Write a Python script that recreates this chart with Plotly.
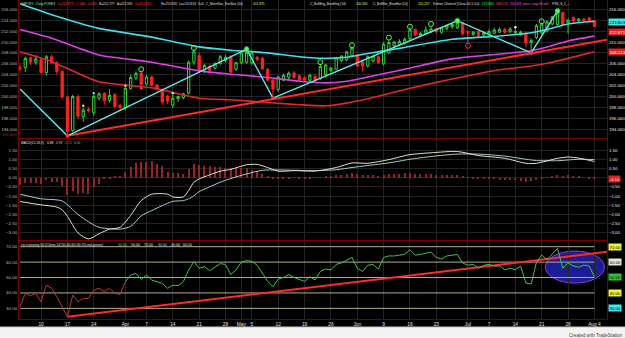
import plotly.graph_objects as go
import pandas as pd

# ---------------- data ----------------
dates = [d.strftime("%Y-%m-%d") for d in pd.bdate_range("2014-03-04", "2014-08-04")]

open_ = [205.3,205.3,207.1,206.3,206.8,204.4,207.3,206.2,204.6,199.9,
         193.8,200.0,196.3,197.7,197.0,199.7,200.6,199.3,200.4,198.4,
         197.9,201.5,203.4,204.3,202.3,203.6,202.1,201.3,200.1,198.4,
         199.6,199.8,200.6,206.3,207.5,204.9,205.6,205.2,206.1,206.6,
         207.3,205.0,206.2,206.3,206.2,207.2,207.0,205.0,203.0,201.3,
         203.0,203.5,204.3,203.8,203.5,203.0,203.7,203.3,204.0,204.8,
         205.0,206.6,206.7,207.5,207.6,206.5,205.6,206.5,207.3,206.0,
         208.0,209.3,209.5,209.8,210.6,212.3,211.2,211.6,211.9,212.4,
         211.8,212.5,212.8,212.6,213.5,211.9,211.4,211.9,211.3,211.4,
         211.6,211.8,212.3,211.9,211.7,211.5,211.5,209.9,210.8,211.7,
         212.0,213.3,213.2,215.4,213.5,214.5,213.9,214.2,214.4,213.913]
high = [205.9,207.3,207.3,207.6,207.0,207.6,207.7,206.5,204.9,200.2,
        200.3,200.4,197.9,198.0,200.3,200.8,200.8,201.4,200.6,198.7,
        201.7,204.0,204.6,204.7,204.0,203.9,202.3,201.5,200.3,200.3,
        200.2,200.7,206.6,208.6,208.0,206.0,205.9,206.3,207.6,207.6,
        207.6,206.4,208.3,208.7,208.4,207.4,207.3,205.2,203.2,203.8,
        204.2,204.6,204.7,204.1,203.8,204.2,204.0,206.0,206.0,205.4,
        207.3,207.6,208.4,209.1,207.8,206.8,207.5,207.7,207.5,210.0,
        210.3,210.2,210.5,210.8,212.4,212.5,211.8,212.9,212.8,212.6,
        212.8,213.2,213.4,213.9,213.6,212.1,212.0,212.1,212.0,212.3,
        212.6,212.7,212.6,212.7,212.4,212.1,211.8,210.6,213.3,213.5,
        214.0,214.8,215.7,215.6,214.3,214.7,214.4,214.4,214.6,213.933]
low = [204.6,204.5,205.8,205.8,204.2,203.8,205.9,204.0,199.6,192.8,
       193.5,195.9,195.4,197.1,196.5,199.3,198.5,198.9,197.8,197.6,
       197.5,201.2,203.0,201.9,202.0,201.9,201.1,198.5,198.6,197.9,
       199.0,199.5,200.4,205.8,204.3,204.3,204.5,204.9,205.8,206.2,
       204.2,204.7,205.9,206.0,205.9,206.5,204.9,202.8,199.7,200.8,
       202.8,203.2,203.2,202.8,202.7,202.6,202.6,203.0,203.5,204.4,
       204.8,206.3,206.5,207.2,205.4,204.6,205.3,206.2,206.0,205.7,
       207.8,209.0,209.2,209.4,210.3,211.1,210.9,211.3,211.6,211.6,
       211.5,212.2,212.4,212.3,211.2,209.8,211.1,210.9,211.0,211.1,
       211.4,211.6,211.5,211.6,211.4,211.2,209.0,208.0,210.5,211.4,
       211.8,213.0,213.0,212.9,211.5,213.5,213.6,213.7,213.7,212.813]
close = [205.1,207.0,206.3,206.9,204.4,207.3,206.2,204.6,199.9,193.6,
         200.0,196.4,197.5,197.4,200.0,200.5,199.3,200.2,198.2,198.0,
         201.5,203.5,204.2,202.2,203.6,202.1,201.3,199.0,199.2,199.7,
         200.0,200.5,206.3,208.2,204.6,205.7,204.8,206.0,207.3,207.2,
         204.5,206.2,208.0,208.1,208.0,206.8,205.1,203.0,201.4,203.6,
         203.9,204.3,203.5,203.1,203.0,203.9,203.0,205.5,205.8,205.2,
         207.1,207.4,208.2,208.9,205.6,205.6,207.3,207.4,206.2,209.6,
         209.9,210.0,210.1,210.5,212.2,211.3,211.6,212.2,212.4,211.9,
         212.6,213.0,213.2,213.6,211.5,211.7,211.8,211.2,211.7,211.9,
         212.2,212.3,211.8,212.4,211.9,211.8,209.8,210.3,213.0,213.3,
         213.7,214.6,215.3,213.1,214.0,213.9,214.2,213.9,213.937,212.871]

# Keltner channel (Close,50,1.5) read at key dates
kc_dates = ["2014-03-04","2014-03-12","2014-03-25","2014-04-08","2014-04-21","2014-04-29",
            "2014-05-08","2014-05-16","2014-05-23","2014-05-29","2014-06-04","2014-06-13",
            "2014-06-26","2014-07-09","2014-07-17","2014-07-22","2014-07-28","2014-08-04"]
kc_upper = [217.0,215.0,212.5,210.9,209.1,208.5,208.0,207.3,207.0,207.2,207.9,209.0,
            210.5,211.1,211.7,212.3,213.3,213.803]
kc_mid = [212.3,210.7,207.6,206.3,204.7,204.1,203.5,202.8,202.5,202.8,203.6,205.0,
          206.9,207.8,208.4,209.1,210.2,211.073]
kc_lower = [208.2,206.4,202.7,201.6,199.7,199.4,198.9,198.5,198.3,198.8,199.6,201.3,
            203.2,204.9,205.6,206.1,207.0,208.213]

# zigzag swing pivots
zz_dates = ["2014-03-04","2014-03-17","2014-05-02","2014-05-09","2014-06-27","2014-07-17","2014-07-24"]
zz_vals = [201.4,192.8,208.7,199.7,213.9,208.0,215.7]
zz_high_dates = ["2014-05-02","2014-06-27","2014-07-24"]
zz_high_vals = [208.7,213.9,215.7]
zz_low_dates = ["2014-03-17","2014-05-09","2014-07-17"]
zz_low_vals = [192.8,199.7,208.0]

# candle-pattern signals
bull_dates = ["2014-04-04","2014-04-18","2014-05-22","2014-05-30","2014-06-10","2014-06-16","2014-06-20","2014-07-21"]
bull_vals = [205.0,208.9,206.3,209.4,210.8,212.8,213.3,213.8]
bear_dates = ["2014-07-01"]
bear_vals = [209.3]
dot_dates = ["2014-03-20","2014-04-01","2014-04-14","2014-03-24","2014-04-04","2014-07-14"]
dot_vals = [198.3,202.0,200.6,200.6,201.5,212.7]
dot_colors = ["#f0e040","#f0e040","#f0e040","#40e0ff","#e040e0","#f0f0f0"]

# trendlines (anchor date/value pairs)
price_trend_dates = ["2014-03-17","2014-08-04"]
price_trend_vals = [192.8,210.0]
rsi_trend_dates = ["2014-03-17","2014-08-04"]
rsi_trend_vals = [24.5,65.7]

# MACD (12,26,9)
macd_dates = ["2014-03-04","2014-03-10","2014-03-13","2014-03-14","2014-03-17","2014-03-19",
              "2014-03-21","2014-03-25","2014-03-27","2014-03-31","2014-04-02","2014-04-04",
              "2014-04-08","2014-04-11","2014-04-14","2014-04-16","2014-04-17","2014-04-18",
              "2014-04-21","2014-04-23","2014-04-25","2014-04-29","2014-05-02","2014-05-06",
              "2014-05-08","2014-05-12","2014-05-15","2014-05-21","2014-05-27","2014-05-30",
              "2014-06-04","2014-06-10","2014-06-16","2014-06-20","2014-06-27","2014-07-03",
              "2014-07-10","2014-07-16","2014-07-18","2014-07-24","2014-07-28","2014-07-30","2014-08-04"]
macd_vals = [-1.30,-1.48,-1.60,-1.75,-2.10,-3.00,-3.33,-3.05,-2.80,-2.70,-2.05,-1.25,
             -0.90,-0.90,-1.05,-1.05,-0.70,-0.25,-0.07,0.15,0.35,0.45,0.70,0.72,
             0.55,0.35,0.38,0.36,0.55,0.80,0.78,0.98,1.25,1.35,1.42,1.20,
             1.05,0.78,0.78,1.05,1.12,1.06,0.88]
sig_dates = ["2014-03-04","2014-03-10","2014-03-14","2014-03-19","2014-03-21","2014-03-25",
             "2014-03-27","2014-03-31","2014-04-02","2014-04-04","2014-04-08","2014-04-10",
             "2014-04-14","2014-04-16","2014-04-17","2014-04-18","2014-04-21","2014-04-23",
             "2014-04-25","2014-04-29","2014-05-02","2014-05-07","2014-05-12","2014-05-15",
             "2014-05-21","2014-05-27","2014-05-30","2014-06-04","2014-06-10","2014-06-16",
             "2014-06-20","2014-06-27","2014-07-03","2014-07-10","2014-07-16","2014-07-18",
             "2014-07-24","2014-07-28","2014-07-30","2014-08-04"]
sig_vals = [-0.90,-1.15,-1.27,-2.00,-2.40,-2.70,-2.78,-2.80,-2.65,-2.08,-1.79,-1.52,
            -1.29,-1.25,-1.15,-0.99,-0.76,-0.50,-0.25,-0.05,0.20,0.40,0.42,0.40,
            0.38,0.43,0.55,0.66,0.80,1.00,1.15,1.28,1.28,1.17,1.00,0.93,
            0.92,0.96,1.00,0.98]
macd_hist = [-0.40,-0.30,-0.30,-0.30,-0.33,-0.12,-0.21,-0.26,-0.48,-0.94,
             -0.70,-0.90,-0.85,-0.90,-0.50,-0.35,-0.05,-0.05,0.05,0.10,
             0.33,0.60,0.82,0.87,0.87,0.90,0.74,0.63,0.33,0.24,
             0.24,0.20,0.45,0.74,0.69,0.65,0.62,0.60,0.58,0.55,
             0.50,0.50,0.52,0.50,0.42,0.35,0.20,0.10,-0.05,-0.08,
             -0.06,-0.03,-0.02,-0.03,-0.04,-0.03,-0.02,0.03,0.07,0.10,
             0.12,0.17,0.22,0.25,0.18,0.12,0.12,0.13,0.10,0.16,
             0.18,0.20,0.21,0.23,0.25,0.22,0.21,0.20,0.20,0.16,
             0.15,0.15,0.14,0.14,0.05,-0.02,-0.05,-0.08,-0.08,-0.10,
             -0.10,-0.11,-0.12,-0.12,-0.14,-0.16,-0.22,-0.20,-0.15,-0.08,
             -0.02,0.06,0.13,0.10,0.14,0.10,0.06,0.00,-0.05,-0.10]

# RSI (14)
rsi = [31.0,39.7,38.2,39.7,34.3,45.1,43.0,37.5,31.0,24.5,
       38.6,34.3,36.5,36.5,41.9,43.0,40.8,43.0,39.7,39.1,
       47.3,51.6,52.7,48.8,51.6,48.4,47.3,46.2,43.0,45.1,
       44.7,47.3,54.9,60.3,56.0,57.0,54.5,56.5,59.0,58.5,
       52.0,55.0,60.0,61.0,60.5,58.0,53.0,47.5,44.0,49.0,
       50.0,52.0,50.0,48.5,47.5,50.5,48.5,54.0,55.5,55.0,
       58.5,59.5,61.5,63.0,56.0,54.0,58.0,58.5,55.5,63.0,
       64.0,64.0,64.5,65.0,68.0,64.5,65.0,66.0,66.5,63.0,
       62.0,64.0,64.6,65.0,59.4,58.0,58.5,56.0,58.0,58.5,
       57.5,57.5,55.0,56.0,55.0,57.5,46.4,45.8,60.0,64.6,
       61.4,65.0,69.0,56.0,59.4,57.5,56.8,58.0,57.5,50.5]
rsi_cross_date = "2014-04-01"
rsi_levels = [70, 60, 50, 40, 30]
highlight_dates = ["2014-07-22", "2014-08-04"]
highlight_rsi = [46.4, 67.2]

tick_dates = ["2014-03-10","2014-03-17","2014-03-24","2014-04-01","2014-04-07","2014-04-14",
              "2014-04-21","2014-04-28","2014-05-01","2014-05-05","2014-05-12","2014-05-19",
              "2014-05-26","2014-06-02","2014-06-09","2014-06-16","2014-06-23","2014-07-01",
              "2014-07-07","2014-07-14","2014-07-21","2014-07-28","2014-08-04"]
tick_labels = ["10","17","24","Apr","7","14","21","28","May","5","12","19",
               "26","Jun","9","16","23","Jul","7","14","21","28","Aug 4"]
price_ticks = [194,196,198,200,202,204,206,208,210,212,214,216]
macd_ticks = [1.5,1.0,0.5,0.0,-0.5,-1.0,-1.5,-2.0,-2.5,-3.0]

assert len(dates) == 110
for arr in (open_, high, low, close, macd_hist, rsi):
    assert len(arr) == len(dates), len(arr)

# ---------------- figure ----------------
FONT = "Liberation Sans, Arial, sans-serif"
pos = {d: i for i, d in enumerate(dates)}
X = list(range(len(dates)))
def ix(ds):
    return [pos[d] for d in ds]

X_RANGE = [-0.19, 111.39]
ML, MR, MT, MB = 19, 18, 0, 19
PW, PH = 625 - ML - MR, 338 - MT - MB
def xp(px):
    return (px - ML) / PW
def yp(py):
    return (PH - (py - MT)) / PH

RED_BORDER = "#7a0000"
GRID = "#242424"

fig = go.Figure()

# --- price panel ---
fig.add_trace(go.Scatter(x=ix(kc_dates), y=kc_lower, mode="lines", line=dict(color="#e02828", width=1.6, shape="spline", smoothing=0.6), hoverinfo="skip"))
fig.add_trace(go.Scatter(x=ix(kc_dates), y=kc_mid, mode="lines", line=dict(color="#e040e8", width=1.6, shape="spline", smoothing=0.6), hoverinfo="skip"))
fig.add_trace(go.Scatter(x=ix(kc_dates), y=kc_upper, mode="lines", line=dict(color="#40e0e8", width=1.6, shape="spline", smoothing=0.6), hoverinfo="skip"))

def extended(dts, vals):
    i0, i1 = pos[dts[0]], pos[dts[1]]
    slope = (vals[1] - vals[0]) / (i1 - i0)
    return [i0, X_RANGE[1]], [vals[0], vals[1] + slope * (X_RANGE[1] - i1)]

tx, ty = extended(price_trend_dates, price_trend_vals)
fig.add_trace(go.Scatter(x=tx, y=ty, mode="lines", line=dict(color="#ff2a2a", width=2), hoverinfo="skip"))

fig.add_trace(go.Candlestick(x=X, open=open_, high=high, low=low, close=close,
                             increasing=dict(line=dict(color="#38d038", width=1), fillcolor="#000000"),
                             decreasing=dict(line=dict(color="#ff2020", width=1), fillcolor="#ff2020"),
                             whiskerwidth=0, hoverinfo="skip"))

fig.add_trace(go.Scatter(x=ix(zz_dates), y=zz_vals, mode="lines", line=dict(color="#60e8e8", width=1.4), hoverinfo="skip"))
fig.add_trace(go.Scatter(x=ix(zz_high_dates), y=zz_high_vals, mode="markers",
                         marker=dict(color="#50ff50", size=5, line=dict(color="#20a020", width=0.6)), hoverinfo="skip"))
fig.add_trace(go.Scatter(x=ix(zz_low_dates), y=zz_low_vals, mode="markers",
                         marker=dict(color="#ff3030", size=4), hoverinfo="skip"))
fig.add_trace(go.Scatter(x=ix(bull_dates), y=bull_vals, mode="markers",
                         marker=dict(symbol="circle-open", color="#50ff50", size=5, line=dict(width=1)), hoverinfo="skip"))
fig.add_trace(go.Scatter(x=ix(bear_dates), y=bear_vals, mode="markers",
                         marker=dict(symbol="circle-open", color="#ff3030", size=5, line=dict(width=1)), hoverinfo="skip"))
fig.add_trace(go.Scatter(x=ix(dot_dates), y=dot_vals, mode="markers",
                         marker=dict(color=dot_colors, size=2.5), hoverinfo="skip"))
fig.add_trace(go.Scatter(x=X, y=close, yaxis="y4", mode="lines", line=dict(width=0), opacity=0, hoverinfo="skip"))

# --- MACD panel ---
fig.add_trace(go.Bar(x=X, y=macd_hist, xaxis="x2", yaxis="y2", width=0.2,
                     marker=dict(color="#962424", line=dict(width=0)), hoverinfo="skip"))
fig.add_trace(go.Scatter(x=ix(sig_dates), y=sig_vals, xaxis="x2", yaxis="y2", mode="lines",
                         line=dict(color="#a8cccc", width=1, shape="spline", smoothing=0.7), hoverinfo="skip"))
fig.add_trace(go.Scatter(x=ix(macd_dates), y=macd_vals, xaxis="x2", yaxis="y2", mode="lines",
                         line=dict(color="#e4e4c4", width=1, shape="spline", smoothing=0.7), hoverinfo="skip"))
fig.add_trace(go.Scatter(x=ix(macd_dates), y=macd_vals, xaxis="x2", yaxis="y5", mode="lines",
                         line=dict(width=0), opacity=0, hoverinfo="skip"))

# --- RSI panel ---
for lv in rsi_levels:
    fig.add_trace(go.Scatter(x=[X[0], X[-1]], y=[lv, lv], xaxis="x3", yaxis="y3", mode="lines",
                             line=dict(color="#b0b08c", width=1), hoverinfo="skip"))
rx, ry = extended(rsi_trend_dates, rsi_trend_vals)
fig.add_trace(go.Scatter(x=rx, y=ry, xaxis="x3", yaxis="y3", mode="lines",
                         line=dict(color="#ff2a2a", width=2), hoverinfo="skip"))
c = pos[rsi_cross_date]
fig.add_trace(go.Scatter(x=X[:c + 1], y=rsi[:c + 1], xaxis="x3", yaxis="y3", mode="lines",
                         line=dict(color="#c83434", width=1), hoverinfo="skip"))
fig.add_trace(go.Scatter(x=X[c:], y=rsi[c:], xaxis="x3", yaxis="y3", mode="lines",
                         line=dict(color="#44c044", width=1), hoverinfo="skip"))
fig.add_trace(go.Scatter(x=X, y=rsi, xaxis="x3", yaxis="y6", mode="lines",
                         line=dict(width=0), opacity=0, hoverinfo="skip"))

# ---------------- layout ----------------
tickvals = ix(tick_dates)
dom_price = [yp(138), 1.0]
dom_macd = [yp(240), yp(139)]
dom_rsi = [0.0, yp(241)]
axfont_r = dict(family=FONT, size=4.4, color="#e6e6e6")
axfont_l = dict(family=FONT, size=4.4, color="#bdbdbd")

def xax(anchor, labels=False):
    return dict(domain=[0, 1], range=X_RANGE, anchor=anchor, tickvals=tickvals, ticktext=tick_labels,
                showticklabels=labels, showgrid=True, gridcolor=GRID, gridwidth=1, zeroline=False,
                showline=True, linecolor=RED_BORDER, linewidth=1, ticks="", fixedrange=True,
                tickfont=dict(family=FONT, size=4.8, color="#e0e0e0"), rangeslider=dict(visible=False))

def yax(dom, rng, anchor, side, font, grid=False, **kw):
    d = dict(domain=dom, range=rng, anchor=anchor, side=side, showgrid=grid, gridcolor=GRID,
             zeroline=False, showline=True, linecolor=RED_BORDER, linewidth=1, ticks="",
             tickfont=font, fixedrange=True)
    d.update(kw)
    return d

P_RANGE = [192.4, 217.7]
M_RANGE = [-3.39, 2.10]
R_RANGE = [23.1, 73.7]

price_ticks_r = [t for t in price_ticks if t not in (214, 212, 208)]
macd_ticks_r = [t for t in macd_ticks if t != 0.0]

fig.update_layout(
    width=625, height=338, autosize=False,
    margin=dict(l=ML, r=MR, t=MT, b=MB, pad=0),
    paper_bgcolor="#000000", plot_bgcolor="#000000",
    showlegend=False, boxgap=0.38, bargap=0,
    xaxis=xax("y"), xaxis2=xax("y2"), xaxis3=xax("y3", labels=True),
    yaxis=yax(dom_price, P_RANGE, "x", "right", axfont_r, tickvals=price_ticks_r, tickformat=".3f"),
    yaxis4=yax(dom_price, P_RANGE, "x", "left", axfont_l, grid=True, overlaying="y", tickvals=price_ticks, tickformat=".3f"),
    yaxis2=yax(dom_macd, M_RANGE, "x2", "right", axfont_r, tickvals=macd_ticks_r, tickformat=".2f"),
    yaxis5=yax(dom_macd, M_RANGE, "x2", "left", axfont_l, grid=True, overlaying="y2", tickvals=macd_ticks, tickformat=".2f"),
    yaxis3=yax(dom_rsi, R_RANGE, "x3", "right", axfont_r, showticklabels=False),
    yaxis6=yax(dom_rsi, R_RANGE, "x3", "left", axfont_l, overlaying="y3", tickvals=rsi_levels, tickformat=".2f"),
)

shapes = []
shapes.append(dict(type="circle", xref="x3", yref="y3", layer="below",
                   x0=pos[highlight_dates[0]] - 0.3, x1=pos[highlight_dates[1]] + 1.9,
                   y0=highlight_rsi[0], y1=highlight_rsi[1],
                   fillcolor="#1c1c94", line=dict(color="#9a3cc8", width=1)))
shapes.append(dict(type="rect", xref="paper", yref="paper", x0=xp(0), x1=xp(625), y0=yp(338), y1=yp(327),
                   fillcolor="#f3f3f3", line=dict(width=0), layer="above"))
shapes.append(dict(type="line", xref="paper", yref="paper", x0=xp(0), x1=xp(625), y0=yp(327), y1=yp(327),
                   line=dict(color="#c8c8c8", width=1)))
fig.update_layout(shapes=shapes)

# approximate Arial advance widths (em) to lay the tiny status texts out without collisions
_W = {}
for ch in "il.,:;'|!": _W[ch] = 0.25
for ch in "()-rtf ": _W[ch] = 0.32
for ch in "0123456789abcdeghnopqsuvxyz_$": _W[ch] = 0.556
for ch in "ABEKPSVXY": _W[ch] = 0.667
for ch in "CDHNRU": _W[ch] = 0.722
for ch in "GOQ": _W[ch] = 0.778
_W.update({"M": 0.833, "W": 0.944, "m": 0.833, "w": 0.722, "%": 0.889, "=": 0.584, "J": 0.5,
           "L": 0.556, "F": 0.611, "T": 0.611, "Z": 0.611, "I": 0.278, "k": 0.5, "j": 0.222})
def text_w(s, size):
    return sum(_W.get(ch, 0.556) for ch in s) * size

ann = []
def txt(px, py, s, color, size=3.2, anchor="left"):
    ann.append(dict(x=xp(px), y=yp(py), xref="paper", yref="paper", text=s, showarrow=False,
                    xanchor=anchor, yanchor="middle", borderpad=0,
                    font=dict(family=FONT, size=size, color=color)))

def status_line(items, py, size, gap=2.2):
    cursor = 0
    for px, s, col in items:
        x0 = max(px, cursor)
        txt(x0, py, s, col, size=size)
        cursor = x0 + text_w(s, size) + gap

W = "#e0e0e0"
header = [(20, "GBPJPY - Daily FOREX", "#a8e8a8"), (53, "L=212.871", "#ff4040"), (75, "-1.066", "#ff4040"),
          (84, "-0.05%", "#ff4040"), (97, "B=212.777", W), (115, "A=212.931", W), (133, "O=213.913", "#ff4040"),
          (160, "H=213.933", W), (177, "Lo=212.813", W), (196, "V=0", W), (203, "C_MornStar_EveStar (14)", W),
          (252, "201.875", "#c8ff80"), (309, "C_BullEng_BearEng (14)", W), (355, "200.300", "#c8ff80"),
          (372, "C_BullHar_BearHar (14)", W), (417, "210.257", "#f0f060"),
          (432, "Keltner Channel (Close,50,1.5,0)", W), (477, "213.803", "#40ff40"),
          (489, "208.213", "#ff4040"), (501, "211.073", "#ff50ff"), (514, "price -xing LB sell", "#ff60c0"),
          (544, "PSS_S_2_...", W)]
status_line(header, 4, 3.2)

macd_title = [(20, "MACD(12,26,9)", W), (46, "0.88", "#e8e8c0"), (53, "0.98", "#a8d0d0"),
              (60, "-0.10", "#ff4040"), (68, "0.00", "#40d040")]
status_line(macd_title, 142.5, 3.3)

rsi_title = [(20, "rsi crossing 50 (Close,14,50,40,60,30,70,red,green)", W), (117, "50.55", "#40e040"),
             (130, "50.00", W), (143, "70.00", "#f0f060"), (157, "30.00", "#40e0e0"),
             (170, "40.00", W), (182, "60.00", W)]
status_line(rsi_title, 245, 3.6)

txt(1, 134, f"{min(low):.3f}", "#b02020", size=4.0)
txt(624, 335, "Created with TradeStation", "#404040", size=4.6, anchor="right")

def box(yref, val, s, bg, fg="#000000", yshift=0):
    ann.append(dict(x=1, xref="paper", y=val, yref=yref, xanchor="left", yanchor="middle", xshift=1,
                    yshift=yshift, text=s, showarrow=False, bgcolor=bg, borderpad=0.5,
                    font=dict(family=FONT, size=4.3, color=fg)))

box("y", kc_upper[-1], f"{kc_upper[-1]:.3f}", "#40e8e8", yshift=-1)
box("y", close[-1], f"{close[-1]:.3f}", "#e02020", fg="#ffffff", yshift=-6)
box("y", kc_lower[-1], f"{kc_lower[-1]:.3f}", "#e02020", fg="#ffffff")
box("y2", macd_hist[-1], f"{macd_hist[-1]:.2f}", "#e02020", fg="#ffffff")
box("y3", 70, "70.00", "#f0f040")
box("y3", 60, "60.00", "#e8e8c8")
box("y3", rsi[-1], "50.55", "#30c030")
box("y3", 40, "40.00", "#f0f040")
box("y3", 30, "30.00", "#40e8e8")

fig.update_layout(annotations=ann)

fig.write_html("out.html")
